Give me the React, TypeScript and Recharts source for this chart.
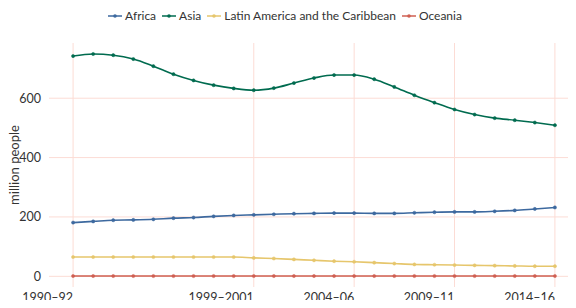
import React from "react";
import { LineChart, Line, XAxis, YAxis, CartesianGrid, Legend } from "recharts";

// three-year periods, 1990-92 .. 2014-16
const periods = [
  "1990–92", "1991–93", "1992–94", "1993–95", "1994–96", "1995–97", "1996–98", "1997–99",
  "1998–2000", "1999–2001", "2000–02", "2001–03", "2002–04", "2003–05", "2004–06", "2005–07",
  "2006–08", "2007–09", "2008–10", "2009–11", "2010–12", "2011–13", "2012–14", "2013–15", "2014–16",
];
const tickIdx = [0, 9, 14, 19, 24];
const yTicks = [0, 200, 400, 600];

// million people undernourished
const africa = [181, 185, 189, 190, 192, 196, 198, 202, 205, 207, 209, 211, 212, 213, 213, 212, 212, 214, 216, 217, 217, 219, 222, 227, 232];
const asia = [742, 749, 745, 732, 708, 681, 660, 644, 633, 627, 634, 651, 668, 678, 678, 664, 638, 610, 585, 562, 545, 533, 526, 518, 509];
const latam = [65, 65, 65, 65, 65, 65, 65, 65, 65, 62, 60, 57, 54, 51, 49, 46, 43, 40, 39, 38, 37, 36, 35, 34, 34];
const oceania = [1, 1, 1, 1, 1, 1, 1, 1, 1, 1, 1, 1, 1, 1, 1, 1, 1, 1, 1, 1, 1, 1, 1, 1, 1];

const series = [
  { key: "africa", name: "Africa", color: "#3d699f" },
  { key: "asia", name: "Asia", color: "#006b4f" },
  { key: "latam", name: "Latin America and the Caribbean", color: "#e6c66c" },
  { key: "oceania", name: "Oceania", color: "#cf5f52" },
];

const data = periods.map((p, i) => ({
  idx: i,
  period: p,
  africa: africa[i],
  asia: asia[i],
  latam: latam[i],
  oceania: oceania[i],
}));

const FONT = "Lato, sans-serif";

function LegendRow() {
  return (
    <div style={{ height: 35, display: "flex", justifyContent: "center", alignItems: "flex-start", lineHeight: "16px", fontFamily: FONT, fontSize: 12, color: "#333" }}>
      {series.map((s) => (
        <span key={s.key} style={{ display: "inline-flex", alignItems: "center", marginRight: 6 }}>
          <svg width={14} height={8} style={{ marginRight: 3 }}>
            <line x1={0} y1={4} x2={14} y2={4} stroke={s.color} strokeWidth={1.5} />
            <circle cx={7} cy={4} r={1.8} fill={s.color} />
          </svg>
          {s.name}
        </span>
      ))}
    </div>
  );
}

function YLabel(props: any) {
  const vb = props.viewBox || { y: 43, height: 244 };
  const cx = 14;
  const cy = vb.y + vb.height / 2;
  return (
    <text x={cx} y={cy} transform={`rotate(-90 ${cx} ${cy})`} textAnchor="middle" dominantBaseline="central" fontFamily={FONT} fontSize={13} fill="#333">
      million people
    </text>
  );
}

export default function App() {
  return (
    <div style={{ margin: -8, width: 576, height: 308, overflow: "hidden", background: "#fff" }}>
      <LineChart width={580} height={308} data={data} margin={{ top: 8, right: 1, bottom: 0, left: 0 }}>
        <Legend verticalAlign="top" content={<LegendRow />} wrapperStyle={{ width: 576, left: 0 }} />
        {/* syncWithTicks: no extra lines at the plot edges */}
        <CartesianGrid stroke="#fcdcd5" strokeWidth={1} syncWithTicks />
        <XAxis
          dataKey="idx"
          type="number"
          domain={[-1.2, 25.2]}
          ticks={tickIdx}
          tickFormatter={(i: number) => periods[i]}
          axisLine={false}
          tickLine={false}
          tickMargin={0}
          height={21}
          interval={0}
          tick={{ fontFamily: FONT, fontSize: 12.5, fill: "#333", textAnchor: "end" }}
        />
        <YAxis
          domain={[-36, 786]}
          ticks={yTicks}
          axisLine={false}
          tickLine={false}
          width={49}
          tick={{ fontFamily: FONT, fontSize: 12.5, fill: "#333" }}
          label={<YLabel />}
        />
        {series.map((s) => (
          <Line
            key={s.key}
            type="monotone"
            dataKey={s.key}
            name={s.name}
            stroke={s.color}
            strokeWidth={1.6}
            dot={{ r: 1.6, fill: s.color, stroke: s.color, strokeWidth: 0.5 }}
            activeDot={false}
            isAnimationActive={false}
          />
        ))}
      </LineChart>
    </div>
  );
}
